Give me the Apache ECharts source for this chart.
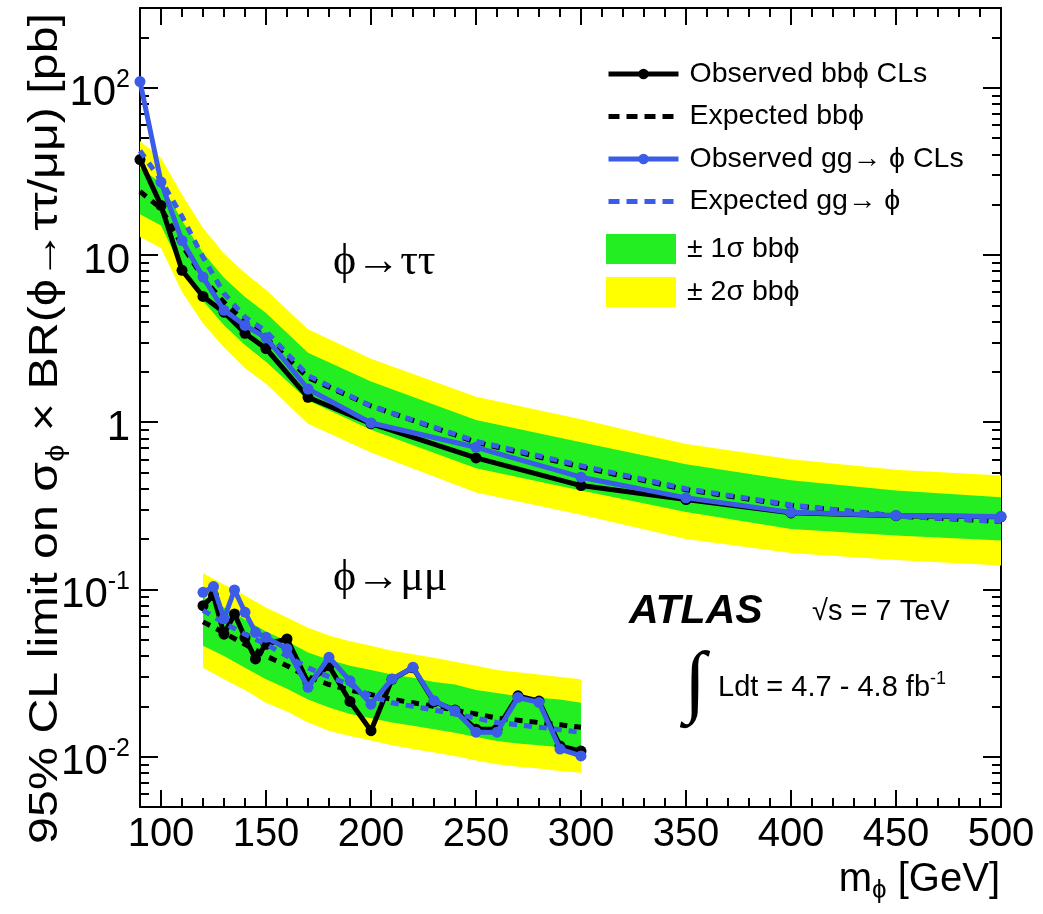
<!DOCTYPE html>
<html><head><meta charset="utf-8">
<script src="https://cdn.jsdelivr.net/npm/echarts@6/dist/echarts.min.js"></script>
<style>html,body{margin:0;padding:0;background:#fff}#c{width:1043px;height:914px}</style>
</head><body><div id="c"></div>
<script>
// ---------------- data ----------------
// phi -> tau tau
const tauMass  = [90,100,110,120,130,140,150,170,200,250,300,350,400,450,500];
const tauObsBB = [37.2,19.8,8.1,5.65,4.55,3.4,2.76,1.41,0.98,0.612,0.418,0.345,0.287,0.276,0.272];
const tauExpBB = [24,19,11.5,7.3,5.2,4.0,3.2,1.85,1.25,0.76,0.54,0.395,0.318,0.275,0.255];
const tauObsGG = [109,27.3,12.2,7.38,4.67,3.79,3.2,1.58,0.99,0.708,0.469,0.353,0.289,0.277,0.273];
const tauExpGG = [42,28,17,9.7,5.9,4.25,3.5,1.9,1.25,0.77,0.55,0.40,0.32,0.275,0.255];
const tauS2Hi  = [48,38,23,14.5,10.2,7.8,6.2,3.6,2.4,1.42,1.04,0.74,0.60,0.52,0.48];
const tauS1Hi  = [33,27,16,10.3,7.3,5.6,4.5,2.6,1.75,1.03,0.76,0.56,0.45,0.39,0.356];
const tauS1Lo  = [17.5,15,8.2,5.3,3.8,2.9,2.3,1.35,0.9,0.53,0.39,0.29,0.23,0.21,0.196];
const tauS2Lo  = [12.8,11,6.0,3.9,2.8,2.1,1.7,0.98,0.66,0.38,0.28,0.20,0.165,0.15,0.139];
// phi -> mu mu
const muMass   = [120,125,130,135,140,145,150,160,170,180,190,200,210,220,230,240,250,260,270,280,290,300];
const muObsBB  = [0.080,0.092,0.054,0.0713,0.0516,0.0384,0.047,0.0506,0.0278,0.035,0.0214,0.0143,0.029,0.034,0.0213,0.019,0.0146,0.0146,0.0231,0.0215,0.0116,0.0108];
const muObsGG  = [0.0961,0.104,0.0668,0.0993,0.0730,0.0554,0.0517,0.0442,0.0260,0.0393,0.0284,0.0206,0.0291,0.0342,0.0216,0.0188,0.0140,0.0140,0.0226,0.0211,0.0111,0.0101];
const muExpMass= [120,130,140,150,160,170,180,190,200,210,220,230,240,250,260,270,280,290,300];
const muExpBB  = [0.064,0.055,0.047,0.040,0.035,0.030,0.027,0.025,0.0235,0.022,0.021,0.020,0.019,0.018,0.017,0.0165,0.016,0.0155,0.015];
const muExpGG  = [0.075,0.063,0.054,0.047,0.040,0.034,0.030,0.027,0.023,0.021,0.020,0.019,0.018,0.017,0.016,0.0155,0.015,0.0145,0.014];
const muS2Hi   = [0.125,0.107,0.092,0.078,0.068,0.059,0.053,0.049,0.046,0.043,0.041,0.039,0.037,0.035,0.033,0.032,0.031,0.030,0.029];
const muS1Hi   = [0.090,0.078,0.066,0.056,0.049,0.042,0.038,0.035,0.033,0.031,0.0296,0.028,0.027,0.025,0.024,0.023,0.0225,0.022,0.021];
const muS1Lo   = [0.046,0.040,0.034,0.029,0.0255,0.022,0.0197,0.018,0.017,0.016,0.0153,0.0146,0.0139,0.0131,0.0124,0.012,0.0117,0.0114,0.0112];
const muS2Lo   = [0.034,0.029,0.025,0.021,0.0186,0.016,0.0143,0.0133,0.0125,0.0117,0.0111,0.0106,0.0101,0.0095,0.009,0.0087,0.0085,0.0082,0.008];
// axis ticks / labels
const xMajor = [100,150,200,250,300,350,400,450,500];
const yMajor = [0.01,0.1,1,10,100];
const yTickBase = ['10','10','1','10','10'];
const yTickExp  = ['-2','-1','','','2'];
// legend names
const N_OBS_BB = 'Observed bbϕ CLs', N_EXP_BB = 'Expected bbϕ', N_OBS_GG = 'Observed gg→ ϕ CLs', N_EXP_GG = 'Expected gg→ ϕ';
const N_S1 = '± 1σ bbϕ', N_S2 = '± 2σ bbϕ';

// ---------------- style ----------------
const FONT = "'Liberation Sans', Arial, Helvetica, 'DejaVu Sans', sans-serif";
const SERIF = "'Liberation Serif', 'Times New Roman', 'DejaVu Serif', serif";
const GREEN = '#22ee22', YELLOW = '#ffff00', BLUE = '#3a5ce6', BLACK = '#000000';

// minor log ticks (axis decoration)
const yMinor = [];
for (let d = -3; d <= 2; d++) for (let k = 2; k <= 9; k++) { const v = k * Math.pow(10, d); if (v > 0.005 && v < 300) yMinor.push(+v.toPrecision(3)); }

function bandSeries(name, mass, hi, lo, color, z) {
  return {
    type: 'custom', name: name, z: z, silent: true, animation: false,
    data: mass.map((m, i) => [m, hi[i], lo[i]]),
    encode: { x: 0, y: [1, 2] },
    itemStyle: { color: color },
    renderItem: function (params, api) {
      if (params.dataIndex !== 0) return null;
      const pts = [];
      for (let i = 0; i < mass.length; i++) pts.push(api.coord([mass[i], hi[i]]));
      for (let i = mass.length - 1; i >= 0; i--) pts.push(api.coord([mass[i], lo[i]]));
      return { type: 'polygon', shape: { points: pts }, style: { fill: color } };
    }
  };
}
function lineSeries(name, xs, ys, color, dashed, z) {
  return {
    type: 'line', name: name, z: z, silent: true, animation: false,
    data: xs.map((m, i) => [m, ys[i]]),
    symbol: dashed ? 'none' : 'circle', symbolSize: 11, showSymbol: !dashed,
    lineStyle: { color: color, width: 5, type: dashed ? [8, 7] : 'solid' },
    itemStyle: { color: color },
    emphasis: { disabled: true }
  };
}

const tickStyle = { color: '#000', width: 2 };
const xBase = { type: 'value', min: 90, max: 500, splitLine: { show: false }, axisLabel: { show: false }, axisLine: { show: false }, axisTick: { show: false } };
const yBase = { type: 'log', logBase: 10, min: 0.005, max: 300, splitLine: { show: false }, axisLabel: { show: false }, axisLine: { show: false }, axisTick: { show: false } };
const legendText = { fontSize: 28.5, fontFamily: FONT, color: '#000', lineHeight: 30, padding: [0, 0, 0, 6] };

const option = {
  backgroundColor: '#fff',
  animation: false,
  grid: { left: 140, right: 42, top: 8, bottom: 107 },
  xAxis: [
    Object.assign({}, xBase, { position: 'bottom',
      axisLine: { show: true, onZero: false, lineStyle: tickStyle },
      axisTick: { show: true, inside: true, length: 17, lineStyle: tickStyle, customValues: xMajor },
      axisLabel: { show: true, customValues: xMajor, margin: 8, fontSize: 40, fontFamily: FONT, color: '#000' } }),
    Object.assign({}, xBase, { position: 'bottom', interval: 10,
      axisTick: { show: true, inside: true, length: 9, lineStyle: tickStyle } }),
    Object.assign({}, xBase, { position: 'top',
      axisLine: { show: true, onZero: false, lineStyle: tickStyle },
      axisTick: { show: true, inside: true, length: 17, lineStyle: tickStyle, customValues: xMajor } }),
    Object.assign({}, xBase, { position: 'top', interval: 10,
      axisTick: { show: true, inside: true, length: 9, lineStyle: tickStyle } })
  ],
  yAxis: [
    Object.assign({}, yBase, { position: 'left',
      axisLine: { show: true, onZero: false, lineStyle: tickStyle },
      axisTick: { show: true, inside: true, length: 18, lineStyle: tickStyle, customValues: yMajor },
      axisLabel: { show: true, customValues: yMajor, margin: 10, color: '#000',
        formatter: function (v) {
          let idx = 0, best = 1e9;
          for (let i = 0; i < yMajor.length; i++) { const d = Math.abs(Math.log10(v) - Math.log10(yMajor[i])); if (d < best) { best = d; idx = i; } }
          return '{b|' + yTickBase[idx] + '}' + (yTickExp[idx] ? '{s|' + yTickExp[idx] + '}' : '');
        },
        rich: {
          b: { fontSize: 42, fontFamily: FONT, color: '#000', lineHeight: 40, padding: [12, 0, 0, 0] },
          s: { fontSize: 25, fontFamily: FONT, color: '#000', lineHeight: 25, verticalAlign: 'top' }
        } } }),
    Object.assign({}, yBase, { position: 'left',
      axisTick: { show: true, inside: true, length: 9, lineStyle: tickStyle, customValues: yMinor } }),
    Object.assign({}, yBase, { position: 'right',
      axisLine: { show: true, onZero: false, lineStyle: tickStyle },
      axisTick: { show: true, inside: true, length: 18, lineStyle: tickStyle, customValues: yMajor } }),
    Object.assign({}, yBase, { position: 'right',
      axisTick: { show: true, inside: true, length: 9, lineStyle: tickStyle, customValues: yMinor } })
  ],
  legend: [
    { data: [
        { name: N_OBS_BB, lineStyle: { width: 5 } },
        { name: N_EXP_BB, itemStyle: { opacity: 0 }, lineStyle: { width: 5, type: [11, 7] } },
        { name: N_OBS_GG, lineStyle: { width: 5 } },
        { name: N_EXP_GG, itemStyle: { opacity: 0 }, lineStyle: { width: 5, type: [11, 7] } } ],
      orient: 'vertical', left: 601, top: 54, lineStyle: { width: 5 },
      itemWidth: 70, itemHeight: 13, itemGap: 12.5, selectedMode: false, textStyle: legendText },
    { data: [ { name: N_S1, icon: 'rect', itemStyle: { color: GREEN } }, { name: N_S2, icon: 'rect', itemStyle: { color: YELLOW } } ],
      orient: 'vertical', left: 601, top: 229, itemWidth: 70, itemHeight: 30, itemGap: 13, selectedMode: false, textStyle: legendText }
  ],
  series: [
    bandSeries(N_S2, tauMass, tauS2Hi, tauS2Lo, YELLOW, 1),
    bandSeries(N_S1, tauMass, tauS1Hi, tauS1Lo, GREEN, 2),
    bandSeries(N_S2, muExpMass, muS2Hi, muS2Lo, YELLOW, 1),
    bandSeries(N_S1, muExpMass, muS1Hi, muS1Lo, GREEN, 2),
    lineSeries(N_EXP_BB, tauMass, tauExpBB, BLACK, true, 3),
    lineSeries(N_EXP_BB, muExpMass, muExpBB, BLACK, true, 3),
    lineSeries(N_OBS_BB, tauMass, tauObsBB, BLACK, false, 4),
    lineSeries(N_OBS_BB, muMass, muObsBB, BLACK, false, 4),
    lineSeries(N_EXP_GG, tauMass, tauExpGG, BLUE, true, 5),
    lineSeries(N_EXP_GG, muExpMass, muExpGG, BLUE, true, 5),
    lineSeries(N_OBS_GG, tauMass, tauObsGG, BLUE, false, 6),
    lineSeries(N_OBS_GG, muMass, muObsGG, BLUE, false, 6)
  ],
  graphic: [
    { type: 'text', x: 46, y: 13, rotation: Math.PI / 2, scaleX: 1.18, z: 10,
      style: { text: '95% CL limit on σ{sub|ϕ} × BR(ϕ→ττ/μμ) [pb]', fontSize: 41, fontFamily: FONT, fill: '#000',
        align: 'right', verticalAlign: 'middle', lineHeight: 48,
        rich: { sub: { fontSize: 26, fontFamily: FONT, fill: '#000', lineHeight: 26, verticalAlign: 'bottom' } } } },
    { type: 'text', x: 1000, y: 880, z: 10,
      style: { text: 'm{sub|ϕ} [GeV]', fontSize: 40, fontFamily: FONT, fill: '#000', align: 'right', verticalAlign: 'middle', lineHeight: 48,
        rich: { sub: { fontSize: 26, fontFamily: FONT, fill: '#000', lineHeight: 26, verticalAlign: 'bottom' } } } },
    { type: 'text', x: 333, y: 262, z: 10, style: { text: 'ϕ→ττ', fontSize: 44, fontFamily: SERIF, fill: '#000', verticalAlign: 'middle' } },
    { type: 'text', x: 333, y: 578, z: 10, style: { text: 'ϕ→μμ', fontSize: 44, fontFamily: SERIF, fill: '#000', verticalAlign: 'middle' } },
    { type: 'text', x: 629, y: 612, z: 10, style: { text: 'ATLAS', fontSize: 41, fontWeight: 'bold', fontStyle: 'italic', fontFamily: FONT, fill: '#000', verticalAlign: 'middle' } },
    { type: 'text', x: 812, y: 612, z: 10, style: { text: '√s = 7 TeV', fontSize: 29, fontFamily: FONT, fill: '#000', verticalAlign: 'middle' } },
    { type: 'text', x: 684, y: 686, z: 10, style: { text: '∫', fontSize: 80, fontFamily: SERIF, fill: '#000', verticalAlign: 'middle' } },
    { type: 'text', x: 718, y: 688, z: 10,
      style: { text: 'Ldt = 4.7 - 4.8 fb{sup|-1}', fontSize: 29, fontFamily: FONT, fill: '#000', verticalAlign: 'middle', lineHeight: 36,
        rich: { sup: { fontSize: 18, fontFamily: FONT, fill: '#000', lineHeight: 18, verticalAlign: 'top' } } } }
  ]
};
const chart = echarts.init(document.getElementById('c'));
chart.setOption(option);
</script>
</body></html>
